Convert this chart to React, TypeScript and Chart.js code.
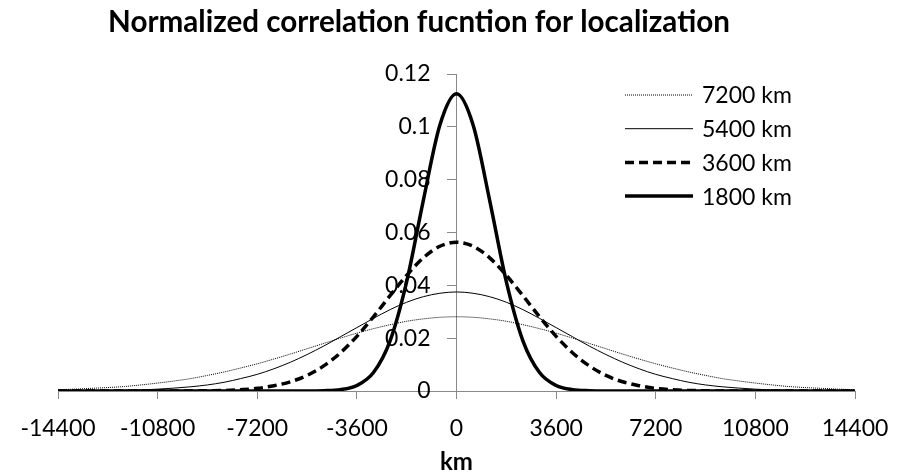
import React, { useEffect, useRef } from "react";
import { Chart, registerables } from "chart.js";

Chart.register(...registerables);

// ---------- data ----------
const KM = [
  -14400, -13800, -13200, -12600, -12000, -11400, -10800, -10200, -9600, -9000,
  -8400, -7800, -7200, -6600, -6000, -5400, -4800, -4200, -3600, -3000,
  -2400, -1800, -1200, -600, 0, 600, 1200, 1800, 2400, 3000,
  3600, 4200, 4800, 5400, 6000, 6600, 7200, 7800, 8400, 9000,
  9600, 10200, 10800, 11400, 12000, 12600, 13200, 13800, 14400,
];

const S7200 = [
  0.0005, 0.0007, 0.001, 0.0013, 0.0017, 0.0023, 0.003, 0.0038, 0.0047, 0.0059,
  0.0072, 0.0087, 0.0103, 0.0121, 0.014, 0.016, 0.018, 0.02, 0.0219, 0.0236,
  0.0251, 0.0264, 0.0273, 0.0279, 0.0281, 0.0279, 0.0273, 0.0264, 0.0251, 0.0236,
  0.0219, 0.02, 0.018, 0.016, 0.014, 0.0121, 0.0103, 0.0087, 0.0072, 0.0059,
  0.0047, 0.0038, 0.003, 0.0023, 0.0017, 0.0013, 0.001, 0.0007, 0.0005,
];

const S5400 = [
  0.0, 0.0001, 0.0001, 0.0002, 0.0003, 0.0004, 0.0007, 0.0011, 0.0016, 0.0023,
  0.0033, 0.0047, 0.0063, 0.0084, 0.0109, 0.0138, 0.017, 0.0205, 0.024, 0.0275,
  0.0308, 0.0336, 0.0357, 0.037, 0.0375, 0.037, 0.0357, 0.0336, 0.0308, 0.0275,
  0.024, 0.0205, 0.017, 0.0138, 0.0109, 0.0084, 0.0063, 0.0047, 0.0033, 0.0023,
  0.0016, 0.0011, 0.0007, 0.0004, 0.0003, 0.0002, 0.0001, 0.0001, 0.0,
];

const S3600 = [
  0, 0, 0, 0, 0, 0, 0, 0, 0, 0.0001,
  0.0002, 0.0005, 0.001, 0.002, 0.0035, 0.0059, 0.0095, 0.0144, 0.0207, 0.0281,
  0.0361, 0.0438, 0.0504, 0.0548, 0.0563, 0.0548, 0.0504, 0.0438, 0.0361, 0.0281,
  0.0207, 0.0144, 0.0095, 0.0059, 0.0035, 0.002, 0.001, 0.0005, 0.0002, 0.0001,
  0, 0, 0, 0, 0, 0, 0, 0, 0,
];

const S1800 = [
  0, 0, 0, 0, 0, 0, 0, 0, 0, 0,
  0, 0, 0, 0, 0, 0, 0.0001, 0.0005, 0.0021, 0.007,
  0.019, 0.0414, 0.0721, 0.1007, 0.1125, 0.1007, 0.0721, 0.0414, 0.019, 0.007,
  0.0021, 0.0005, 0.0001, 0, 0, 0, 0, 0, 0, 0,
  0, 0, 0, 0, 0, 0, 0, 0, 0,
];

const SERIES_NAMES = ["7200 km", "5400 km", "3600 km", "1800 km"];
const X_TICKS = [-14400, -10800, -7200, -3600, 0, 3600, 7200, 10800, 14400];
const Y_TICKS = [0, 0.02, 0.04, 0.06, 0.08, 0.1, 0.12];
const TITLE = "Normalized correlation fucntion for localization";
const X_TITLE = "km";

// ---------- styling ----------
const FONT = "Lato, 'Open Sans', sans-serif";
const AXIS_COLOR = "#888888";
const TITLE_LEFT = 108;
const TITLE_RIGHT = 730;
const TITLE_BASELINE = 32;

const pts = (ys: number[]) => KM.map((x, i) => ({ x, y: ys[i] }));

const overlayPlugin = {
  id: "overlay",
  afterDraw(chart: any) {
    const ctx = chart.ctx as CanvasRenderingContext2D;
    const xs = chart.scales.x;
    ctx.save();
    const ax = xs.getPixelForValue(0);

    // title, fitted to the reference's span
    ctx.fillStyle = "#000";
    ctx.font = `bold 100px ${FONT}`;
    const w100 = ctx.measureText(TITLE).width;
    const size = (100 * (TITLE_RIGHT - TITLE_LEFT)) / w100;
    ctx.font = `bold ${size.toFixed(2)}px ${FONT}`;
    ctx.textAlign = "center";
    ctx.textBaseline = "alphabetic";
    ctx.fillText(TITLE, (TITLE_LEFT + TITLE_RIGHT) / 2, TITLE_BASELINE);

    // x axis title
    ctx.font = `bold 24px ${FONT}`;
    ctx.textBaseline = "middle";
    ctx.fillText(X_TITLE, ax, 462);

    // legend
    chart.data.datasets.forEach((ds: any, i: number) => {
      const y = 95 + i * 33.7;
      ctx.strokeStyle = ds.borderColor;
      ctx.lineWidth = ds.borderWidth;
      ctx.setLineDash(ds.borderDash || []);
      ctx.beginPath();
      ctx.moveTo(625, y);
      ctx.lineTo(693, y);
      ctx.stroke();
      ctx.setLineDash([]);
      ctx.fillStyle = "#000";
      ctx.font = `23px ${FONT}`;
      ctx.textAlign = "left";
      ctx.textBaseline = "middle";
      ctx.fillText(ds.label, 702, y + 1);
    });
    ctx.restore();
  },
};

export default function App() {
  const ref = useRef<HTMLCanvasElement>(null);

  useEffect(() => {
    if (!ref.current) return;
    const chart = new Chart(ref.current, {
      type: "line",
      data: {
        datasets: [
          {
            label: SERIES_NAMES[0],
            data: pts(S7200),
            borderColor: "#000",
            borderWidth: 1,
            borderDash: [1, 1],
          },
          {
            label: SERIES_NAMES[1],
            data: pts(S5400),
            borderColor: "#000",
            borderWidth: 1,
          },
          {
            label: SERIES_NAMES[2],
            data: pts(S3600),
            borderColor: "#000",
            borderWidth: 3.5,
            borderDash: [9, 5],
          },
          {
            label: SERIES_NAMES[3],
            data: pts(S1800),
            borderColor: "#000",
            borderWidth: 3.5,
          },
        ],
      },
      options: {
        animation: false,
        responsive: false,
        devicePixelRatio: 1,
        parsing: false as any,
        layout: { padding: { left: 58, right: 52, top: 74, bottom: 0 } },
        elements: {
          point: { radius: 0 },
          line: { cubicInterpolationMode: "monotone", fill: false },
        },
        plugins: {
          legend: { display: false },
          title: { display: false },
          tooltip: { enabled: false },
        },
        scales: {
          x: {
            type: "linear",
            min: X_TICKS[0],
            max: X_TICKS[X_TICKS.length - 1],
            afterBuildTicks: (s: any) => {
              s.ticks = X_TICKS.map((v) => ({ value: v }));
            },
            afterFit: (s: any) => {
              s.height = 84;
            },
            ticks: {
              color: "#000",
              font: { family: FONT, size: 23 },
              padding: 16,
              maxRotation: 0,
              autoSkip: false,
              callback: (v: any) => String(v),
            },
            grid: {
              drawOnChartArea: false,
              drawTicks: true,
              tickLength: 8,
              color: AXIS_COLOR,
            },
            border: { color: AXIS_COLOR, width: 1 },
          },
          y: {
            type: "linear",
            position: "center",
            min: Y_TICKS[0],
            max: Y_TICKS[Y_TICKS.length - 1],
            afterBuildTicks: (s: any) => {
              s.ticks = Y_TICKS.map((v) => ({ value: v }));
            },
            ticks: {
              color: "#000",
              font: { family: FONT, size: 23 },
              padding: 17,
              callback: (v: any) => String(+Number(v).toFixed(2)),
            },
            grid: {
              drawOnChartArea: false,
              drawTicks: true,
              tickLength: 9,
              color: AXIS_COLOR,
            },
            border: { color: AXIS_COLOR, width: 1 },
          },
        },
      },
      plugins: [overlayPlugin],
    });
    return () => chart.destroy();
  }, []);

  return (
    <div style={{ position: "absolute", left: 0, top: 0, width: 907, height: 475, background: "#fff" }}>
      <canvas ref={ref} width={907} height={475} style={{ display: "block", width: 907, height: 475 }} />
    </div>
  );
}
